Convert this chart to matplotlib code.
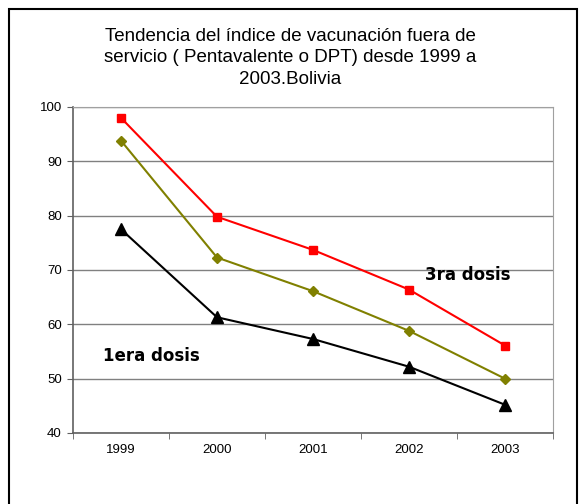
import matplotlib.pyplot as plt
from matplotlib.patches import Rectangle

years = ['1999', '2000', '2001', '2002', '2003']
tercera = [98.0, 79.8, 73.7, 66.4, 56.1]
intermedia = [93.8, 72.3, 66.1, 58.8, 50.0]
primera = [77.5, 61.3, 57.3, 52.2, 45.2]

fig = plt.figure(figsize=(5.84, 5.04), dpi=100)
# marco exterior
fig.patches.append(Rectangle((9 / 584, -0.01), 568 / 584, 1 - 9 / 504 + 0.01,
                             transform=fig.transFigure, fill=False,
                             edgecolor='black', lw=1.5))

ax = fig.add_axes([73 / 584, 1 - 433 / 504, 480 / 584, 326 / 504])
x = range(len(years))
ax.plot(x, tercera, color='#ff0000', marker='s', markersize=6, lw=1.5)
ax.plot(x, intermedia, color='#808000', marker='D', markersize=5, lw=1.5)
ax.plot(x, primera, color='black', marker='^', markersize=8, lw=1.5)

ax.set_xlim(-0.5, 4.5)
ax.set_ylim(40, 100)
ax.set_yticks(range(40, 101, 10))
ax.set_xticks(list(x))
ax.set_xticklabels(years, family='Liberation Sans')
ax.set_yticklabels([str(v) for v in range(40, 101, 10)], family='Liberation Sans')
ax.set_xticks([i - 0.5 for i in range(6)], minor=True)
ax.tick_params(axis='x', which='major', length=0, pad=8, labelsize=9.5)
ax.tick_params(axis='x', which='minor', length=4, color='#606060')
ax.tick_params(axis='y', length=4, color='#606060', labelsize=9.5, pad=4)
ax.grid(axis='y', color='#808080', lw=1)
for s in ['top', 'right']:
    ax.spines[s].set_color('#a0a0a0')
for s in ['left', 'bottom']:
    ax.spines[s].set_color('#606060')
    ax.spines[s].set_linewidth(1.2)

ax.text(3.17, 69.0, '3ra dosis', fontsize=12, fontweight='bold',
        va='center', family='DejaVu Sans')
ax.text(-0.19, 54.2, '1era dosis', fontsize=12, fontweight='bold',
        va='center', family='DejaVu Sans')

fig.text(0.497, 1 - 58 / 504,
         'Tendencia del índice de vacunación fuera de\n'
         'servicio ( Pentavalente o DPT) desde 1999 a\n2003.Bolivia',
         ha='center', va='center', fontsize=13.5, linespacing=1.33,
         family='Liberation Sans')

fig.savefig('out.png', dpi=100)
